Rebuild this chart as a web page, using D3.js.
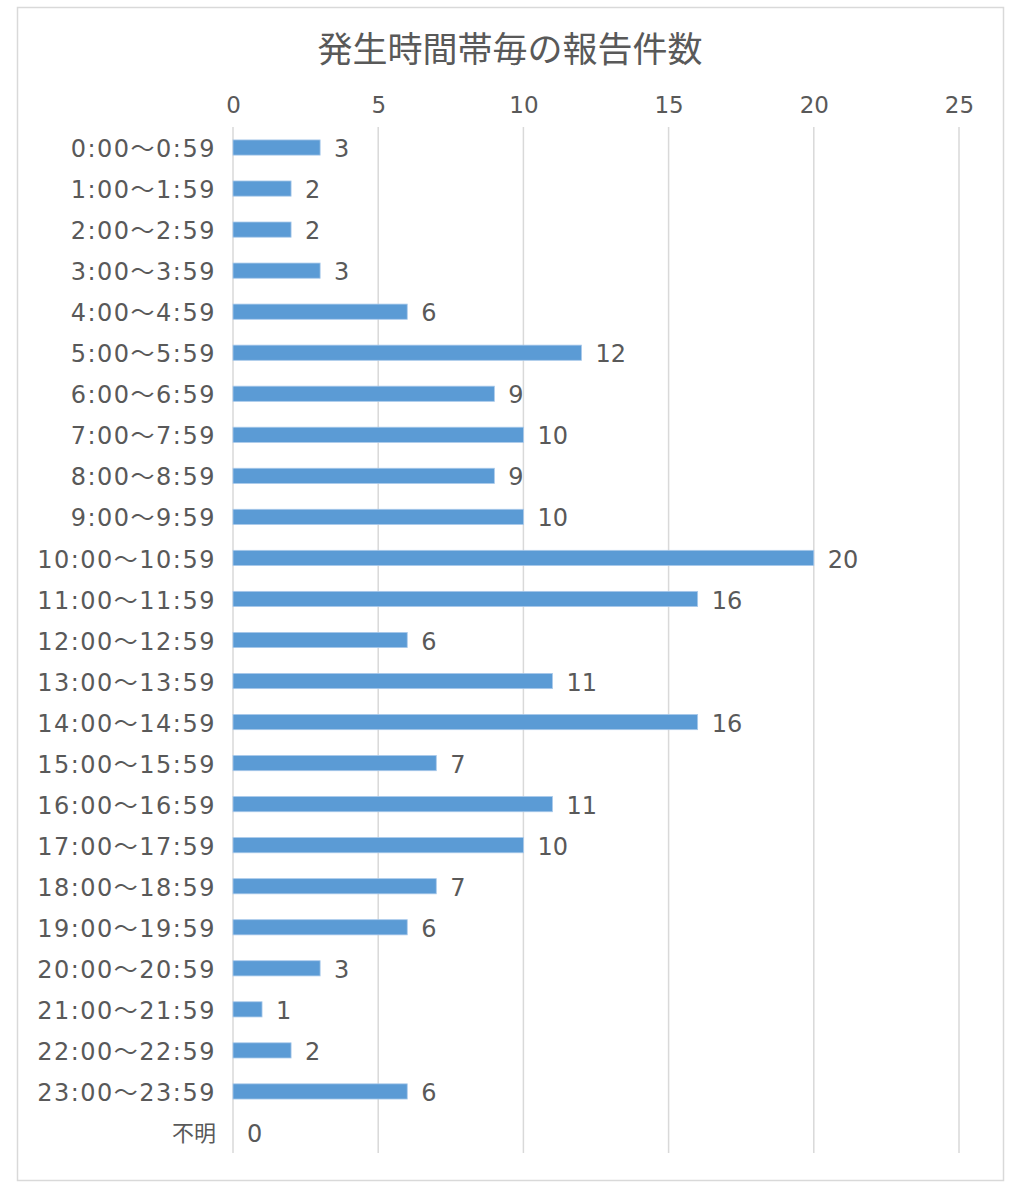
<!DOCTYPE html>
<html>
<head>
<meta charset="utf-8">
<script src="https://d3js.org/d3.v7.min.js"></script>
<style>
  body { margin: 0; background: #fff; }
  text { font-family: "DejaVu Sans", "Noto Sans CJK JP", sans-serif; fill: #595959; }
</style>
</head>
<body>
<script>
var title = "発生時間帯毎の報告件数";

var hours = [
  "0:00～0:59", "1:00～1:59", "2:00～2:59", "3:00～3:59", "4:00～4:59",
  "5:00～5:59", "6:00～6:59", "7:00～7:59", "8:00～8:59", "9:00～9:59",
  "10:00～10:59", "11:00～11:59", "12:00～12:59", "13:00～13:59", "14:00～14:59",
  "15:00～15:59", "16:00～16:59", "17:00～17:59", "18:00～18:59", "19:00～19:59",
  "20:00～20:59", "21:00～21:59", "22:00～22:59", "23:00～23:59", "不明"
];

var counts = [3, 2, 2, 3, 6, 12, 9, 10, 9, 10, 20, 16, 6, 11, 16, 7, 11, 10, 7, 6, 3, 1, 2, 6, 0];

var xTicks = [0, 5, 10, 15, 20, 25];

var rows = hours.map(function (h, i) { return {label: h, value: counts[i]}; });

var W = 1018, H = 1182;
var plotLeft = 233, plotRight = 959, plotTop = 127, plotBottom = 1153;
var font = "\"DejaVu Sans\", \"Noto Sans CJK JP\", sans-serif";

var svg = d3.select("body").append("svg")
  .attr("width", W)
  .attr("height", H);

// chart border
svg.append("rect")
  .attr("x", 17.5).attr("y", 7.5)
  .attr("width", 986).attr("height", 1173)
  .attr("fill", "#fff")
  .attr("stroke", "#d9d9d9")
  .attr("stroke-width", 1.5);

svg.append("text")
  .attr("x", 510).attr("y", 62)
  .attr("text-anchor", "middle")
  .style("font-family", "\"Noto Sans CJK JP\", sans-serif")
  .style("font-size", "35px")
  .text(title);

var x = d3.scaleLinear().domain([0, 25]).range([plotLeft, plotRight]);
var y = d3.scaleBand().domain(hours).range([plotTop, plotBottom]).paddingInner(0.63).paddingOuter(0.315);

// gridlines
svg.selectAll(".grid")
  .data(xTicks)
  .enter().append("line")
  .attr("x1", function (d) { return x(d); })
  .attr("x2", function (d) { return x(d); })
  .attr("y1", plotTop).attr("y2", plotBottom)
  .attr("stroke", "#d9d9d9")
  .attr("stroke-width", 1.5);

// top tick labels
var xAxis = svg.append("g")
  .attr("transform", "translate(0," + (plotTop - 14) + ")")
  .call(d3.axisTop(x).tickValues(xTicks).tickSize(0).tickPadding(0));
xAxis.select(".domain").remove();
xAxis.selectAll("text")
  .style("font-size", "23px")
  .style("font-family", font)
  .attr("fill", "#595959");

// category labels
var yAxis = svg.append("g")
  .attr("transform", "translate(" + (plotLeft - 17) + ",0)")
  .call(d3.axisLeft(y).tickSize(0).tickPadding(0));
yAxis.select(".domain").remove();
yAxis.selectAll("text")
  .style("font-size", function (d) { return d === "不明" ? "22px" : "24px"; })
  .style("letter-spacing", function (d) { return d === "不明" ? "0px" : "1.5px"; })
  .style("font-family", font)
  .attr("dy", "0.4em")
  .attr("fill", "#595959");

// bars
svg.selectAll(".bar")
  .data(rows)
  .enter().append("rect")
  .attr("x", x(0))
  .attr("y", function (d) { return y(d.label); })
  .attr("width", function (d) { return x(d.value) - x(0); })
  .attr("height", y.bandwidth())
  .attr("fill", "#5b9bd5")
  .attr("stroke", "#a9c9ea")
  .attr("stroke-width", function (d) { return d.value > 0 ? 0.8 : 0; });

// value labels
svg.selectAll(".val")
  .data(rows)
  .enter().append("text")
  .attr("x", function (d) { return x(d.value) + 14; })
  .attr("y", function (d) { return y(d.label) + y.bandwidth() / 2; })
  .attr("dy", "0.4em")
  .style("font-size", "24px")
  .text(function (d) { return d.value; });
</script>
</body>
</html>
